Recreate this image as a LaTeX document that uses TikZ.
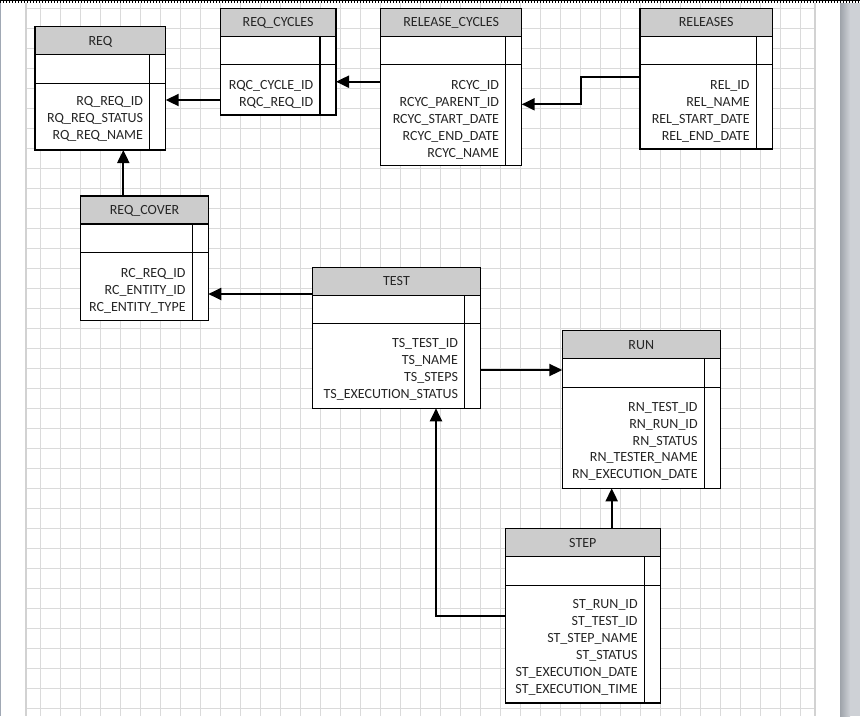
\documentclass[tikz,border=0pt]{standalone}
\usepackage{fontspec}
\setmainfont{Carlito}
\usetikzlibrary{arrows.meta}
\definecolor{headgray}{RGB}{204,204,204}
\definecolor{gridgray}{RGB}{218,218,218}
\definecolor{edgegray}{RGB}{210,210,210}
\definecolor{rulergray}{RGB}{160,168,180}
\definecolor{barlight}{RGB}{206,209,214}
\definecolor{bardark}{RGB}{158,163,170}
\newcommand{\erfont}{\fontsize{14}{16.9}\selectfont}

\begin{document}
\begin{tikzpicture}[x=1pt, y=-1pt,
  erhead/.style={draw, line width=1.1pt, fill=headgray, text=black!85, font=\erfont,
    inner sep=0pt, outer sep=0pt, text height=9pt, text depth=0pt, minimum height=28pt, anchor=north west},
  erkey/.style={draw, line width=1.1pt, fill=white, inner sep=0pt, outer sep=0pt, minimum height=28.5pt, anchor=north west},
  erbody/.style={draw, line width=1.1pt, fill=white, inner sep=0pt, outer sep=0pt, anchor=north west},
  erfields/.style={text=black!85, font=\erfont, align=right, inner sep=0pt, anchor=north east},
  ercol/.style={line width=1.1pt},
  link/.style={line width=2pt, -{Triangle[length=13pt, width=12pt]}}]
  \useasboundingbox (0,0) rectangle (860,716);

  % Page background and grid
  \fill[white] (0,0) rectangle (860,716);
  \foreach \gx in {40,60,...,800}
    \draw[gridgray, line width=1pt] (\gx,3) -- (\gx,716);
  \foreach \gy in {8,28,...,708}
    \draw[gridgray, line width=1pt] (26,\gy) -- (815,\gy);
  \draw[edgegray, line width=2pt] (26,3) -- (26,716);
  \draw[edgegray, line width=2pt] (815,3) -- (815,716);
  \draw[rulergray, line width=1.2pt] (0.6,0) -- (0.6,716);
  \shade[left color=bardark, right color=barlight] (840,3) rectangle (850,716);
  \fill[barlight] (850,3) rectangle (860,716);
  \draw[black, line width=0.8pt] (0,0.4) -- (860,0.4);
  \draw[black, line width=2.4pt, dash pattern=on 0.8pt off 2.2pt] (0,1.6) -- (860,1.6);

  % REQ
  \node[erhead, minimum width=130.7pt] (req) at (35,26.7) {REQ};
  \node[erkey, minimum width=130.7pt] (req-key) at (req.south west) {};
  \node[erbody, minimum width=130.7pt, minimum height=66.8pt] (req-body) at (req-key.south west) {};
  \draw[ercol] ([xshift=-16pt]req-key.north east) -- ([xshift=-16pt]req-body.south east);
  \node[erfields] (req-fields) at ([xshift=-22.5pt, yshift=-12.8pt]req-body.north east)
    {RQ\_REQ\_ID\\RQ\_REQ\_STATUS\\RQ\_REQ\_NAME};

  % REQ_CYCLES
  \node[erhead, minimum width=115.7pt] (rqc) at (220.3,8.3) {REQ\_CYCLES};
  \node[erkey, minimum width=115.7pt] (rqc-key) at (rqc.south west) {};
  \node[erbody, minimum width=115.7pt, minimum height=50.2pt] (rqc-body) at (rqc-key.south west) {};
  \draw[ercol] ([xshift=-16pt]rqc-key.north east) -- ([xshift=-16pt]rqc-body.south east);
  \node[erfields] (rqc-fields) at ([xshift=-22.5pt, yshift=-15.5pt]rqc-body.north east)
    {RQC\_CYCLE\_ID\\RQC\_REQ\_ID};

  % RELEASE_CYCLES
  \node[erhead, minimum width=141pt] (relc) at (380.7,8.3) {RELEASE\_CYCLES};
  \node[erkey, minimum width=141pt] (relc-key) at (relc.south west) {};
  \node[erbody, minimum width=141pt, minimum height=100.9pt] (relc-body) at (relc-key.south west) {};
  \draw[ercol] ([xshift=-16pt]relc-key.north east) -- ([xshift=-16pt]relc-body.south east);
  \node[erfields] (relc-fields) at ([xshift=-22.5pt, yshift=-15.5pt]relc-body.north east)
    {RCYC\_ID\\RCYC\_PARENT\_ID\\RCYC\_START\_DATE\\RCYC\_END\_DATE\\RCYC\_NAME};

  % RELEASES
  \node[erhead, minimum width=132.3pt] (rel) at (640,8.3) {RELEASES};
  \node[erkey, minimum width=132.3pt] (rel-key) at (rel.south west) {};
  \node[erbody, minimum width=132.3pt, minimum height=84.2pt] (rel-body) at (rel-key.south west) {};
  \draw[ercol] ([xshift=-16pt]rel-key.north east) -- ([xshift=-16pt]rel-body.south east);
  \node[erfields] (rel-fields) at ([xshift=-22.5pt, yshift=-15.5pt]rel-body.north east)
    {REL\_ID\\REL\_NAME\\REL\_START\_DATE\\REL\_END\_DATE};

  % REQ_COVER
  \node[erhead, minimum width=127.6pt] (rcov) at (80.7,196) {REQ\_COVER};
  \node[erkey, minimum width=127.6pt] (rcov-key) at (rcov.south west) {};
  \node[erbody, minimum width=127.6pt, minimum height=67.8pt] (rcov-body) at (rcov-key.south west) {};
  \draw[ercol] ([xshift=-16pt]rcov-key.north east) -- ([xshift=-16pt]rcov-body.south east);
  \node[erfields] (rcov-fields) at ([xshift=-22.5pt, yshift=-15.5pt]rcov-body.north east)
    {RC\_REQ\_ID\\RC\_ENTITY\_ID\\RC\_ENTITY\_TYPE};

  % TEST
  \node[erhead, minimum width=168.4pt] (test) at (312.3,267.3) {TEST};
  \node[erkey, minimum width=168.4pt] (test-key) at (test.south west) {};
  \node[erbody, minimum width=168.4pt, minimum height=84.5pt] (test-body) at (test-key.south west) {};
  \draw[ercol] ([xshift=-16pt]test-key.north east) -- ([xshift=-16pt]test-body.south east);
  \node[erfields] (test-fields) at ([xshift=-22.5pt, yshift=-14.8pt]test-body.north east)
    {TS\_TEST\_ID\\TS\_NAME\\TS\_STEPS\\TS\_EXECUTION\_STATUS};

  % RUN
  \node[erhead, minimum width=158pt] (run) at (562.3,330.7) {RUN};
  \node[erkey, minimum width=158pt] (run-key) at (run.south west) {};
  \node[erbody, minimum width=158pt, minimum height=101.1pt] (run-body) at (run-key.south west) {};
  \draw[ercol] ([xshift=-16pt]run-key.north east) -- ([xshift=-16pt]run-body.south east);
  \node[erfields] (run-fields) at ([xshift=-22.5pt, yshift=-14.8pt]run-body.north east)
    {RN\_TEST\_ID\\RN\_RUN\_ID\\RN\_STATUS\\RN\_TESTER\_NAME\\RN\_EXECUTION\_DATE};

  % STEP
  \node[erhead, minimum width=155pt] (step) at (505.3,528.7) {STEP};
  \node[erkey, minimum width=155pt] (step-key) at (step.south west) {};
  \node[erbody, minimum width=155pt, minimum height=117.8pt] (step-body) at (step-key.south west) {};
  \draw[ercol] ([xshift=-16pt]step-key.north east) -- ([xshift=-16pt]step-body.south east);
  \node[erfields] (step-fields) at ([xshift=-22.5pt, yshift=-14.4pt]step-body.north east)
    {ST\_RUN\_ID\\ST\_TEST\_ID\\ST\_STEP\_NAME\\ST\_STATUS\\ST\_EXECUTION\_DATE\\ST\_EXECUTION\_TIME};

  % Relations
  \draw[link] (rqc-body.west |- 0,100) -- (req-body.east |- 0,100);
  \draw[link] (relc-body.west |- 0,81.7) -- (rqc-body.east |- 0,81.7);
  \draw[link] (rel-body.west |- 0,76.7) -- (580.7,76.7) |- (relc-body.east |- 0,104.3);
  \draw[link] (rcov.north -| 123.3,0) -- (req-body.south -| 123.3,0);
  \draw[link] (test.west |- 0,294) -- (rcov-body.east |- 0,294);
  \draw[link] (test-body.east |- 0,370) -- (run-key.west |- 0,370);
  \draw[link] (step.north -| 611.7,0) -- (run-body.south -| 611.7,0);
  \draw[link] (step-body.west |- 0,616) -| (test-body.south -| 436,0);
\end{tikzpicture}
\end{document}
